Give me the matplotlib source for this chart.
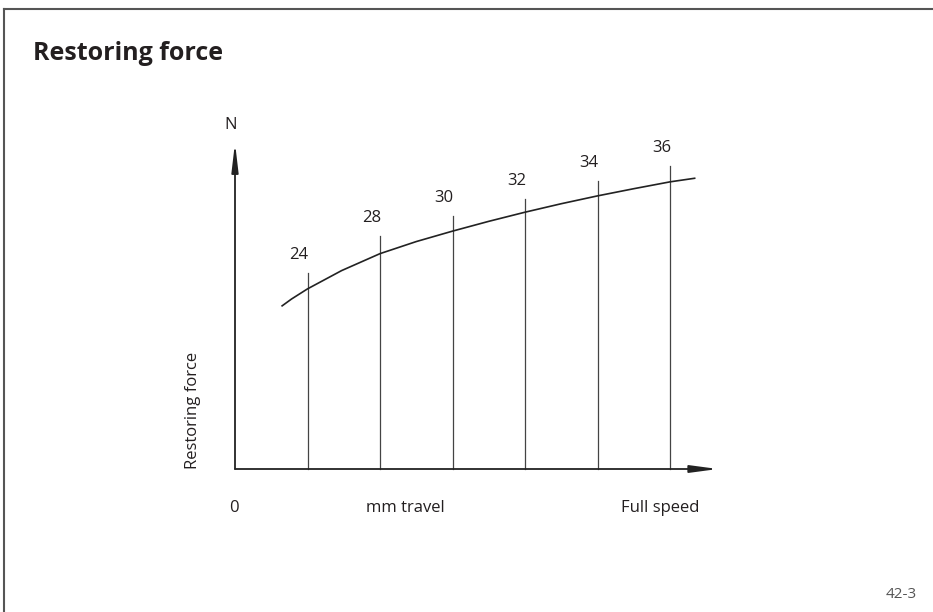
import matplotlib
matplotlib.use("Agg")
import matplotlib.pyplot as plt
from matplotlib.lines import Line2D

plt.rcParams['font.family'] = ['Open Sans', 'DejaVu Sans']

# ---- data ----
positions = [1, 2, 3, 4, 5, 6]                 # travel positions of the marker lines
marker_labels = ["24", "28", "30", "32", "34", "36"]
marker_tops = [6.02, 7.14, 7.75, 8.28, 8.83, 9.29]   # height of each marker line
curve_x = [0.65, 0.78, 1.0, 1.47, 2.0, 2.5, 3.0, 3.5, 4.0, 4.5, 5.0, 5.5, 6.0, 6.34]
curve_y = [5.00, 5.21, 5.52, 6.08, 6.60, 6.97, 7.29, 7.59, 7.87, 8.13, 8.37, 8.59, 8.80, 8.91]

title = "Restoring force"
y_label = "Restoring force"
y_unit = "N"
x_label = "mm travel"
x_start = "0"
x_end = "Full speed"
fig_code = "42-3"

TXT = "#231f20"

W, H = 933, 612
fig = plt.figure(figsize=(W / 100, H / 100), dpi=100)
fig.patch.set_facecolor("white")

# border (top and left visible)
fig.add_artist(Line2D([4 / W, 1], [1 - 9 / H, 1 - 9 / H], transform=fig.transFigure,
                      color="#555555", lw=1.5))
fig.add_artist(Line2D([4 / W, 4 / W], [0, 1 - 9 / H], transform=fig.transFigure,
                      color="#555555", lw=1.5))

fig.text(33 / W, 1 - 53 / H, title, fontsize=18, fontweight="bold", color=TXT,
         ha="left", va="center")
fig.text(917 / W, 1 - 594 / H, fig_code, fontsize=11, color="#555555",
         ha="right", va="center")

# axes: origin at pixel (235, 469)
x0, y0 = 235, 469
x1, y1 = 718, 142.7
ax = fig.add_axes([x0 / W, 1 - y0 / H, (x1 - x0) / W, (y0 - y1) / H])
ax.set_xlim(0, (x1 - x0) / 72.5)
ax.set_ylim(0, 10)
ax.axis("off")

# marker lines
for p, top in zip(positions, marker_tops):
    ax.plot([p, p], [0, top], color="#444444", lw=0.9, clip_on=False)
for p, top, lab in zip(positions, marker_tops, marker_labels):
    ax.annotate(lab, xy=(p, top), xytext=(-6, 13), textcoords="offset points",
                ha="center", va="center", fontsize=12, color=TXT)

# curve
ax.plot(curve_x, curve_y, color="#222222", lw=1.2, clip_on=False,
        solid_joinstyle="round")

# axes arrows
ax.annotate("", xy=(0, 10), xytext=(0, 0), xycoords="data",
            arrowprops=dict(arrowstyle="-|>,head_length=1.7,head_width=0.2",
                            mutation_scale=10, color="#222222", lw=1.3,
                            shrinkA=0, shrinkB=0))
ax.annotate("", xy=(ax.get_xlim()[1], 0), xytext=(0, 0), xycoords="data",
            arrowprops=dict(arrowstyle="-|>,head_length=1.65,head_width=0.22",
                            mutation_scale=10, color="#222222", lw=1.3,
                            shrinkA=0, shrinkB=0))

# axis texts
fig.text(231 / W, 1 - 125 / H, y_unit, fontsize=12, color=TXT, ha="center", va="center")
fig.text(193 / W, 1 - 410 / H, y_label, fontsize=12, color=TXT, ha="center", va="center",
         rotation=90)
fig.text(234 / W, 1 - 508 / H, x_start, fontsize=12, color=TXT, ha="center", va="center")
fig.text(405 / W, 1 - 508 / H, x_label, fontsize=12, color=TXT, ha="center", va="center")
fig.text(660 / W, 1 - 508 / H, x_end, fontsize=12, color=TXT, ha="center", va="center")

fig.savefig("out.png", dpi=100, facecolor="white")
